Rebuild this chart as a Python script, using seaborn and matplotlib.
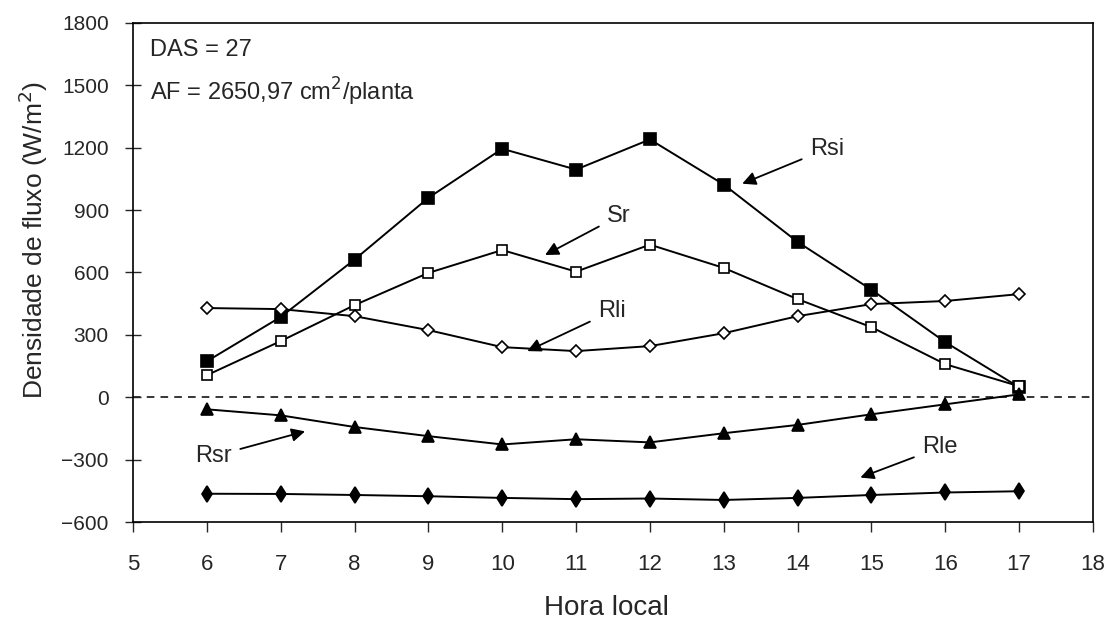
import numpy as np
import pandas as pd
import seaborn as sns
import matplotlib
matplotlib.use("Agg")
import matplotlib.pyplot as plt

hours = [6, 7, 8, 9, 10, 11, 12, 13, 14, 15, 16, 17]

rsi = [173, 386, 662, 959, 1195, 1095, 1240, 1023, 747, 517, 265, 48]
sr = [106, 270, 443, 598, 708, 604, 734, 622, 472, 337, 159, 53]
rli = [429, 424, 390, 323, 241, 222, 246, 308, 390, 448, 463, 496]
rsr = [-58, -87, -143, -187, -227, -202, -217, -173, -133, -82, -34, 14]
rle = [-464, -465, -470, -476, -484, -490, -487, -494, -484, -470, -458, -452]

series_names = ["Rsi", "Sr", "Rli", "Rsr", "Rle"]
series_values = [rsi, sr, rli, rsr, rle]

df = pd.DataFrame({
    "hora": hours * len(series_names),
    "valor": sum(series_values, []),
    "serie": np.repeat(series_names, len(hours)),
})

sns.set_theme(style="ticks")
plt.rcParams["font.family"] = ["Liberation Sans", "DejaVu Sans"]

fig = plt.figure(figsize=(11.11, 6.26), dpi=100)
ax = fig.add_axes([0.1197, 0.1661, 0.8641, 0.7972])

marker_styles = {
    "Rsi": dict(marker="s", markersize=8, markerfacecolor="black"),
    "Sr": dict(marker="s", markersize=7.5, markerfacecolor="white"),
    "Rli": dict(marker="D", markersize=6.5, markerfacecolor="white"),
    "Rsr": dict(marker="^", markersize=8, markerfacecolor="black"),
    "Rle": dict(marker="d", markersize=8, markerfacecolor="black"),
}

for name in series_names:
    sub = df[df["serie"] == name]
    sns.lineplot(data=sub, x="hora", y="valor", ax=ax, color="black",
                 linewidth=1.4, markeredgecolor="black", markeredgewidth=1.2,
                 legend=False, **marker_styles[name])

ax.axhline(0, color="black", linewidth=1.1, linestyle=(0, (5, 4)), zorder=0)

ax.set_xlim(5, 18)
ax.set_ylim(-600, 1800)
ax.set_xticks(range(5, 19))
ax.set_yticks(range(-600, 1801, 300))
ax.tick_params(axis="y", direction="inout", length=11, width=1, labelsize=15, pad=12)
ax.tick_params(axis="x", direction="out", length=7, width=1, labelsize=16, pad=16)
for s in ax.spines.values():
    s.set_linewidth(1.2)
    s.set_color("black")

ax.set_xlabel("Hora local", fontsize=20)
ax.xaxis.set_label_coords(0.493, -0.146)
ax.set_ylabel("Densidade de fluxo (W/m$^2$)", fontsize=19)
ax.yaxis.set_label_coords(-0.086, 0.565)

ax.text(0.018, 0.946, "DAS = 27", transform=ax.transAxes, fontsize=17, va="center")
ax.text(0.018, 0.862, "AF = 2650,97 cm$^2$/planta", transform=ax.transAxes,
        fontsize=17, va="center")

labels = [
    ("Rsi", (13.25, 1027), (14.17, 1195)),
    ("Sr", (10.58, 684), (11.42, 872)),
    ("Rli", (10.34, 222), (11.30, 414)),
    ("Rsr", (7.33, -164), (5.84, -284)),
    ("Rle", (14.85, -386), (15.69, -241)),
]
for text, head, pos in labels:
    ax.annotate(text, xy=head, xytext=pos, fontsize=17, va="center", ha="left",
                arrowprops=dict(arrowstyle="-|>", color="black", lw=1.3,
                                mutation_scale=20, shrinkA=4, shrinkB=0))

fig.savefig("out.png", dpi=100, facecolor="white")
